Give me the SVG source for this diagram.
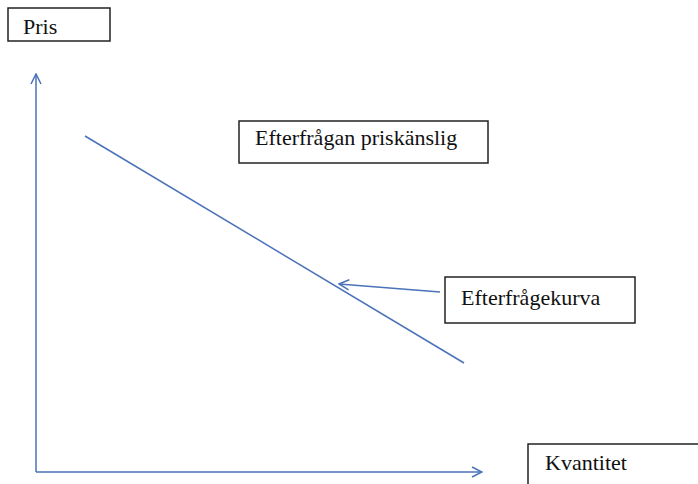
<svg xmlns="http://www.w3.org/2000/svg" width="698" height="484" viewBox="0 0 698 484">
<style>
.box{fill:#fff;stroke:#222;stroke-width:1.5}
.t{font-family:"Liberation Serif",serif;font-size:22px;fill:#111}
.ln{fill:none;stroke:#4a72b8;stroke-width:1.5}
</style>
<defs>
<marker id="ah" viewBox="0 0 12 12" refX="11" refY="6" markerWidth="12" markerHeight="12" markerUnits="userSpaceOnUse" orient="auto">
<path d="M1,1 L11,6 L1,11" fill="none" stroke="#4a72b8" stroke-width="1.5"/>
</marker>
</defs>
<rect width="698" height="484" fill="#fff"/>
<g id="connectors">
<line class="ln" x1="36" y1="472" x2="36" y2="74" marker-end="url(#ah)"/>
<line class="ln" x1="36" y1="472" x2="482" y2="472" marker-end="url(#ah)"/>
<line class="ln" x1="85" y1="136" x2="464" y2="363"/>
<line class="ln" x1="440" y1="292" x2="339" y2="284" marker-end="url(#ah)"/>
</g>
<g id="pris">
<rect class="box" x="8" y="8" width="102" height="33"/>
<text class="t" x="23" y="34">Pris</text>
</g>
<g id="efterfragan">
<rect class="box" x="239" y="121" width="249" height="42"/>
<text class="t" x="255" y="145">Efterfrågan priskänslig</text>
</g>
<g id="efterfragekurva">
<rect class="box" x="445" y="277" width="190" height="46"/>
<text class="t" x="461" y="305">Efterfrågekurva</text>
</g>
<g id="kvantitet">
<rect class="box" x="528" y="444" width="175" height="48"/>
<text class="t" x="545" y="470">Kvantitet</text>
</g>
</svg>
